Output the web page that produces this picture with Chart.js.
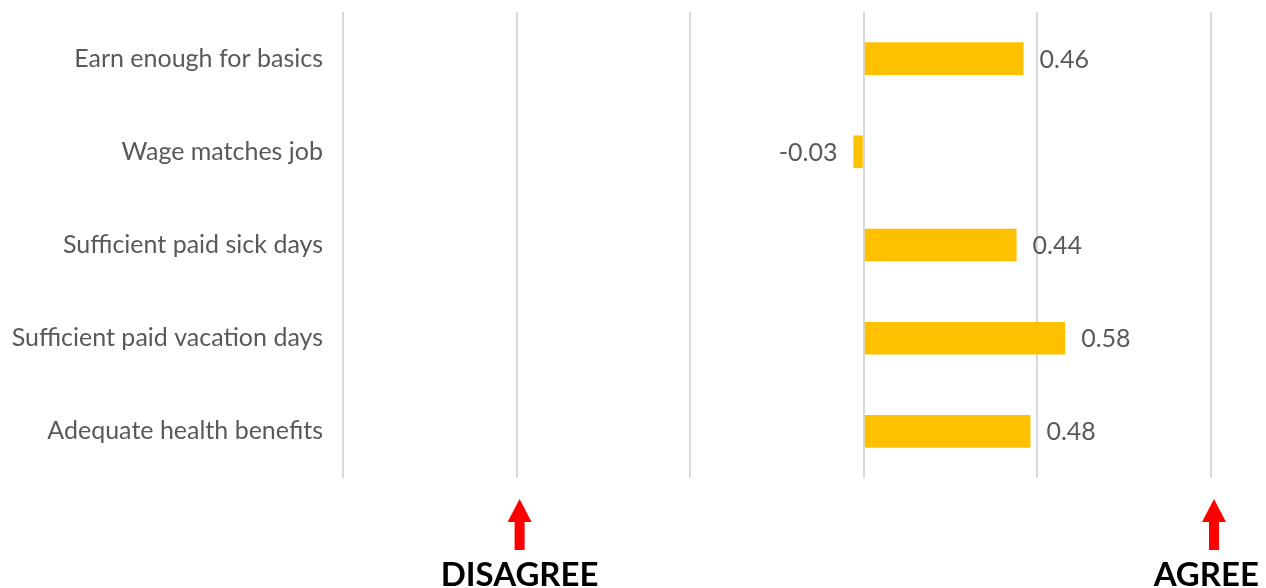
<!DOCTYPE html>
<html>
<head>
<meta charset="utf-8">
<script src="https://cdn.jsdelivr.net/npm/chart.js@4"></script>
<style>
  html, body { margin: 0; padding: 0; background: #fff; }
  #wrap { width: 1266px; height: 588px; }
</style>
</head>
<body>
<div id="wrap"><canvas id="chart"></canvas></div>
<script>
const categories = ['Earn enough for basics', 'Wage matches job', 'Sufficient paid sick days', 'Sufficient paid vacation days', 'Adequate health benefits'];
const scores = [0.46, -0.03, 0.44, 0.58, 0.48];
const axisMarks = [
    { value: -1, text: 'DISAGREE' },
    { value: 1, text: 'AGREE' }
];

// value labels next to each bar
const valueLabels = {
    id: 'valueLabels',
    afterDatasetsDraw(chart) {
        const ctx = chart.ctx;
        const meta = chart.getDatasetMeta(0);
        ctx.save();
        ctx.font = '25px Lato';
        ctx.fillStyle = '#595959';
        ctx.textBaseline = 'middle';
        meta.data.forEach(function (bar, i) {
            let v = scores[i];
            if (v >= 0) {
                ctx.textAlign = 'left';
                ctx.fillText(v.toFixed(2), bar.x + 16, bar.y + 1);
            } else {
                ctx.textAlign = 'right';
                ctx.fillText(v.toFixed(2), bar.x - 16, bar.y + 1);
            }
        });
        ctx.restore();
    }
};

// red arrows and words under the axis
const agreeArrows = {
    id: 'agreeArrows',
    afterDraw(chart) {
        const ctx = chart.ctx;
        const xs = chart.scales.x;
        ctx.save();
        axisMarks.forEach(function (m) {
            let x = xs.getPixelForValue(m.value) + 3;
            ctx.fillStyle = '#ff0000';
            ctx.beginPath();
            ctx.moveTo(x, 499);
            ctx.lineTo(x - 12, 522);
            ctx.lineTo(x + 12, 522);
            ctx.closePath();
            ctx.fill();
            ctx.fillRect(x - 5, 520, 10, 30);
            ctx.fillStyle = '#000';
            ctx.font = 'bold 33px Lato';
            ctx.textAlign = 'center';
            ctx.textBaseline = 'alphabetic';
            let w = ctx.measureText(m.text).width;
            let cx = Math.min(x, chart.width - 7 - w / 2);
            ctx.fillText(m.text, cx, 586);
        });
        ctx.restore();
    }
};

new Chart(document.getElementById('chart'), {
    type: 'bar',
    data: {
        labels: categories,
        datasets: [{
            data: scores,
            backgroundColor: '#ffc000',
            categoryPercentage: 1,
            barPercentage: 0.35
        }]
    },
    options: {
        indexAxis: 'y',
        responsive: true,
        maintainAspectRatio: false,
        animation: false,
        layout: { padding: { top: 12, bottom: 110, right: 55, left: 0 } },
        plugins: {
            legend: { display: false },
            tooltip: { enabled: false }
        },
        scales: {
            x: {
                min: -1.5,
                max: 1,
                ticks: { display: false, stepSize: 0.5 },
                grid: { color: '#d9d9d9', lineWidth: 2, drawTicks: false },
                border: { display: false }
            },
            y: {
                grid: { display: false },
                border: { display: false },
                ticks: { color: '#595959', font: { family: 'Lato', size: 25 }, padding: 12 },
                afterFit(scale) {
                    scale.width = 343;
                    scale.paddingTop = 0;
                    scale.paddingBottom = 0;
                }
            }
        }
    },
    plugins: [valueLabels, agreeArrows]
});
</script>
</body>
</html>
